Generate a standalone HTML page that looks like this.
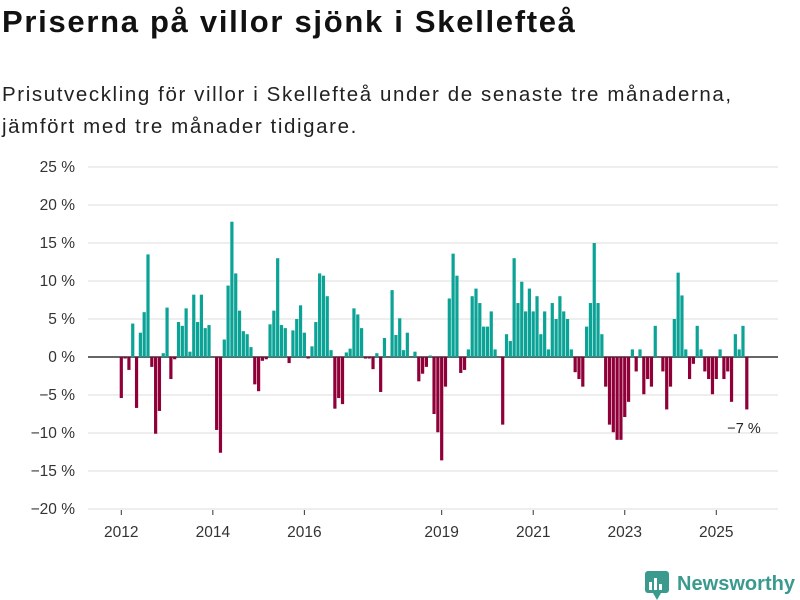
<!DOCTYPE html>
<html><head><meta charset="utf-8"><style>
body{margin:0;background:#fff;width:800px;height:600px;overflow:hidden;font-family:"Liberation Sans","DejaVu Sans",sans-serif;color:#111}
h1{position:absolute;left:2px;top:4px;margin:0;font-size:31px;font-weight:bold;letter-spacing:1.7px;white-space:nowrap}
.sub{position:absolute;left:2px;top:79px;margin:0;font-size:20.5px;line-height:32px;color:#222;letter-spacing:1.6px;white-space:nowrap}
svg{position:absolute;left:0;top:0}
</style></head><body>
<h1>Priserna på villor sjönk i Skellefteå</h1>
<p class="sub">Prisutveckling för villor i Skellefteå under de senaste tre månaderna,<br>jämfört med tre månader tidigare.</p>
<svg width="800" height="600" id="chart"></svg>
<script>
const values = [-5.4,-0.2,-1.7,4.4,-6.7,3.2,5.9,13.5,-1.3,-10.1,-7.1,0.5,6.5,-2.9,-0.3,4.6,4.1,6.4,0.7,8.2,4.6,8.2,3.8,4.2,0,-9.6,-12.6,2.3,9.4,17.8,11.0,6.1,3.4,3.0,1.3,-3.6,-4.5,-0.5,-0.3,4.3,6.1,
13.0,4.2,3.8,-0.8,3.5,5.0,6.8,3.2,-0.2,1.4,4.6,11.0,10.7,8.0,0.9,-6.8,-5.4,-6.2,0.6,1.1,6.4,5.6,3.8,-0.2,-0.2,-1.6,0.5,-4.6,2.5,0,8.8,2.9,5.1,0.9,3.2,0,0.7,-3.2,-2.2,-1.3,0.2,
-7.5,-9.9,-13.6,-3.9,7.7,13.6,10.7,-2.1,-1.7,1.0,8.0,9.0,7.1,4.0,4.0,6.0,1.0,0,-8.9,3.0,2.1,13.0,7.1,9.9,6.0,9.0,6.0,8.0,3.0,6.0,1.0,7.1,5.0,8.0,6.0,5.0,1.0,-2.0,-2.9,-3.9,4.0,
7.1,15.0,7.1,3.0,-3.9,-8.9,-9.9,-10.9,-10.9,-7.9,-5.9,1.0,-1.9,1.0,-4.9,-2.9,-3.9,4.1,0,-1.9,-6.9,-3.9,5.0,11.1,8.1,1.0,-2.9,-0.9,4.1,1.0,-1.9,-2.9,-4.9,-2.9,1.0,-2.9,-1.9,-5.9,3.0,1.0,4.1,-6.9];
const startYear = 2012;
const yTicks = [25,20,15,10,5,0,-5,-10,-15,-20];
const xTickYears = [2012,2014,2016,2019,2021,2023,2025];
const lastLabel = "−7 %";

const NS="http://www.w3.org/2000/svg";
const svg=document.getElementById('chart');
const y=v=>357-v*7.6;
const x=m=>121.3+m*3.814;
function el(t,a,p){const e=document.createElementNS(NS,t);for(const k in a)e.setAttribute(k,a[k]);(p||svg).appendChild(e);return e;}
yTicks.forEach(t=>{
  const g=el('line',{x1:88,x2:778,y1:y(t),y2:y(t),stroke:t===0?'#333':'#dcdcdc','stroke-width':t===0?1.6:1});
  
  
  const tx=el('text',{x:75,y:y(t)+5,'text-anchor':'end','font-size':15.5,fill:'#333'});
  tx.textContent=(t<0?'−'+(-t):t)+' %';
  
  
});
xTickYears.forEach(yr=>{
  const xx=x((yr-startYear)*12);
  const l=el('line',{x1:xx,x2:xx,y1:510,y2:515,stroke:'#333'});
  
  
  const t=el('text',{x:xx,y:537,'text-anchor':'middle','font-size':15.5,fill:'#333'});
  t.textContent=yr;
  
  
});
values.forEach((v,i)=>{
  if(v===0)return;
  const xx=x(i);
  const r=el('rect',{x:xx-1.6,width:3.2,y:Math.min(y(v),357),height:Math.abs(y(v)-357),fill:v>0?'#0aa396':'#8f0039'});
  
  
});
const lab=el('text',{x:744,y:433,'text-anchor':'middle','font-size':14.5,fill:'#222'});
lab.textContent=lastLabel;


const lg=el('g',{});


el('rect',{x:645,y:571,width:24,height:22,rx:3,fill:'#3a9a8e'},lg);
el('rect',{x:649,y:582,width:3,height:8,fill:'#fff'},lg);
el('rect',{x:654,y:578,width:3,height:12,fill:'#fff'},lg);
el('rect',{x:659,y:584,width:3,height:6,fill:'#fff'},lg);
el('path',{d:'M653 593 L657 600 L661 593 Z',fill:'#3a9a8e'},lg);
const lt=el('text',{x:677,y:590,'font-size':20,'font-weight':'bold',fill:'#3a9a8e',textLength:118},lg);
lt.textContent='Newsworthy';
</script>
</body></html>
